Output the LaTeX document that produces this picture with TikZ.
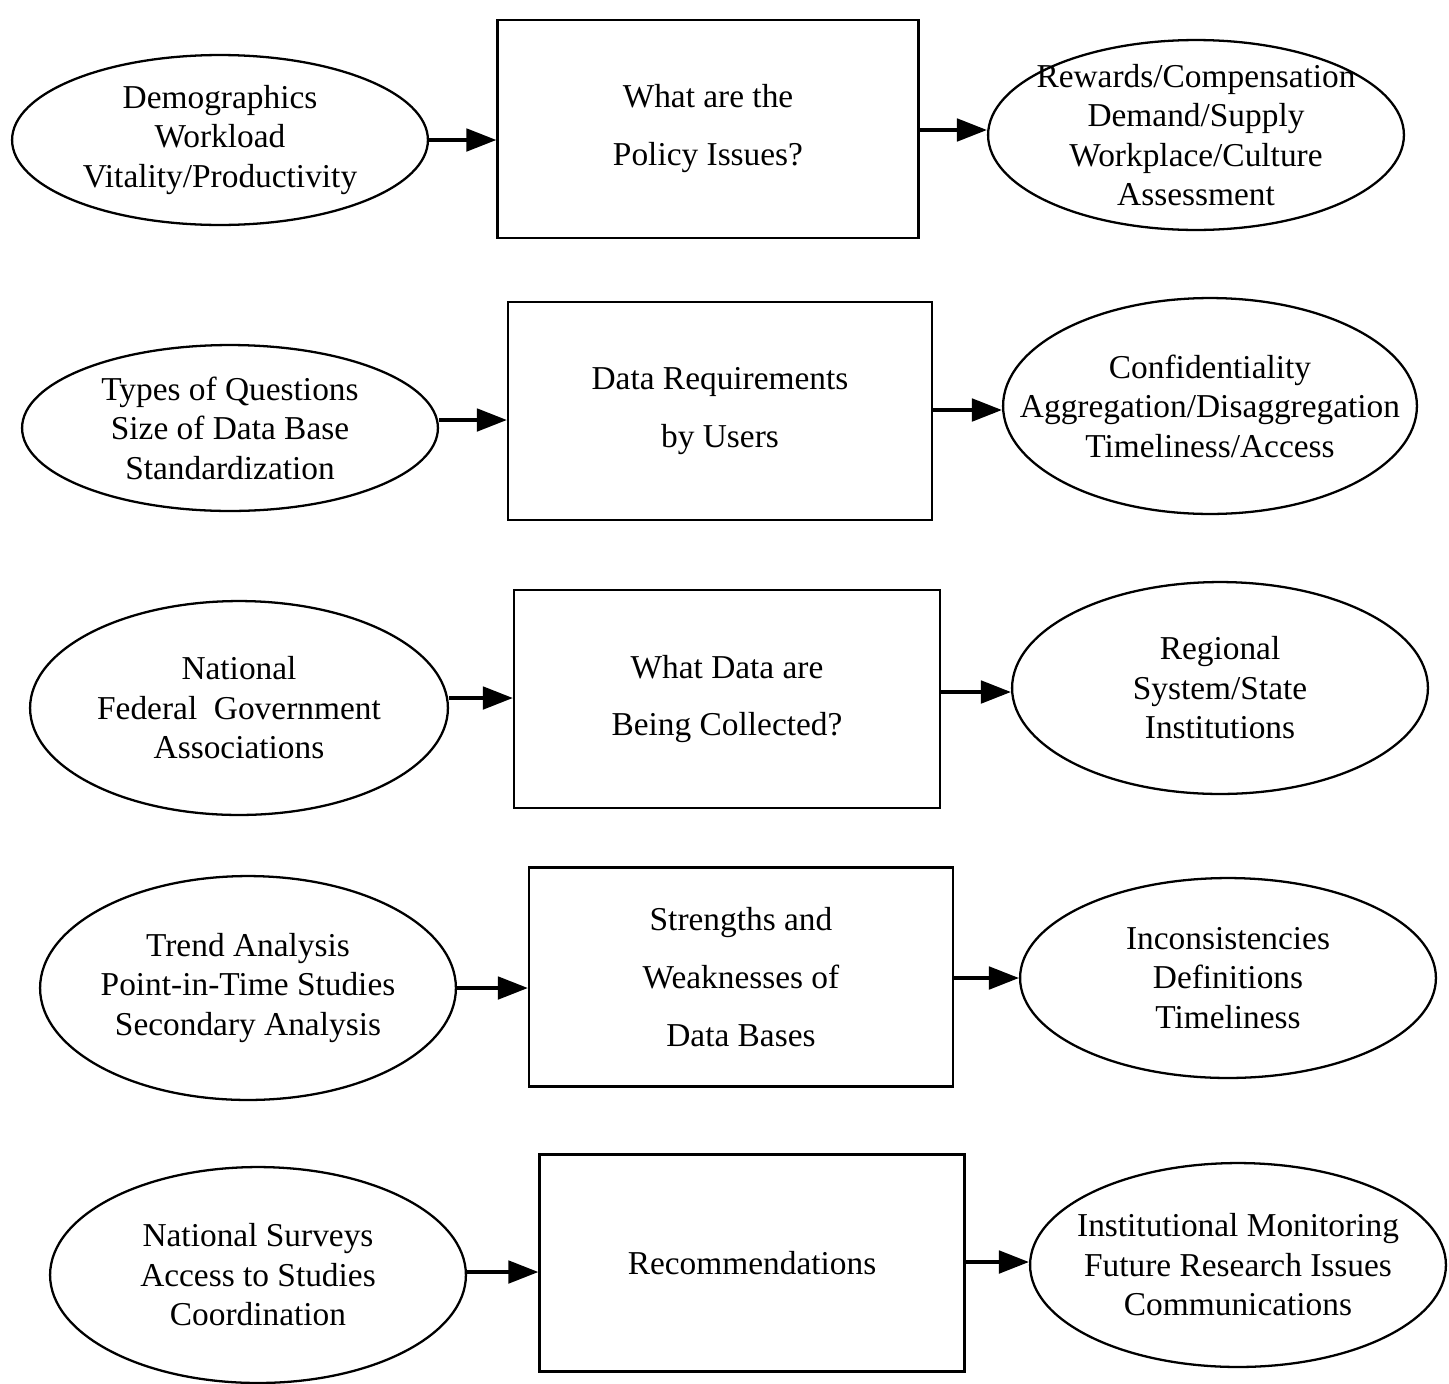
\documentclass[tikz,border=0pt]{standalone}
\usepackage{fontspec}
\setmainfont{Liberation Serif}
\usetikzlibrary{shapes.geometric,arrows.meta}
\begin{document}
\begin{tikzpicture}[x=0.02cm,y=-0.02cm,
  oval/.style={draw,line width=1.3pt,ellipse,inner sep=0pt},
  ovtext/.style={font=\fontsize{19}{22.5}\selectfont,align=center,inner sep=0pt},
  boxn/.style={draw,line width=1.3pt,rectangle,inner sep=0pt,font=\fontsize{19}{33}\selectfont,align=center},
  arr/.style={line width=2pt,-{Triangle[length=0.6cm,width=0.45cm]}}]
\useasboundingbox (0,0) rectangle (1449,1383);
\newcommand{\ov}[6]{\node[oval,minimum width=#4*0.04cm,minimum height=#5*0.04cm] (#1) at (#2,#3) {};
  \node[ovtext] (#1t) at (#1) {#6};}
\newcommand{\bx}[6]{\node[boxn,minimum width=#4*0.02cm,minimum height=#5*0.02cm] (#1) at (#2,#3) {#6};}
% row 1
\ov{l1}{220}{140}{208}{85}{Demographics\\Workload\\Vitality/Productivity}
\bx{b1}{708}{129}{421}{218}{What are the\\Policy Issues?}
\ov{r1}{1196}{135}{208}{95}{Rewards/Compensation\\Demand/Supply\\Workplace/Culture\\Assessment}
% row 2
\ov{l2}{230}{428}{208}{83}{Types of Questions\\Size of Data Base\\Standardization}
\bx{b2}{720}{411}{424}{218}{Data Requirements\\by Users}
\ov{r2}{1210}{406}{207}{108}{Confidentiality\\Aggregation/Disaggregation\\Timeliness/Access}
% row 3
\ov{l3}{239}{708}{209}{107}{National\\Federal~~Government\\Associations}
\bx{b3}{727}{699}{426}{218}{What Data are\\Being Collected?}
\ov{r3}{1220}{688}{208}{106}{Regional\\System/State\\Institutions}
% row 4
\ov{l4}{248}{988}{208}{112}{Trend Analysis\\Point-in-Time Studies\\Secondary Analysis}
\bx{b4}{741}{977}{424}{219}{Strengths and\\Weaknesses of\\Data Bases}
\ov{r4}{1228}{978}{208}{100}{Inconsistencies\\Definitions\\Timeliness}
% row 5
\ov{l5}{258}{1275}{208}{108}{National Surveys\\Access to Studies\\Coordination}
\bx{b5}{752}{1263}{425}{217}{Recommendations}
\ov{r5}{1238}{1265}{208}{102}{Institutional Monitoring\\Future Research Issues\\Communications}
% arrows
\draw[arr] (l1.east) -- (b1.west |- l1.east);
\draw[arr] (b1.east |- 0,130) -- (r1.west |- 0,130);
\draw[arr] (l2.east |- 0,420) -- (b2.west |- 0,420);
\draw[arr] (b2.east |- 0,410) -- (r2.west |- 0,410);
\draw[arr] (l3.east |- 0,698) -- (b3.west |- 0,698);
\draw[arr] (b3.east |- 0,692) -- (r3.west |- 0,692);
\draw[arr] (l4.east |- 0,988) -- (b4.west |- 0,988);
\draw[arr] (b4.east |- 0,978) -- (r4.west |- 0,978);
\draw[arr] (l5.east |- 0,1272) -- (b5.west |- 0,1272);
\draw[arr] (b5.east |- 0,1262) -- (r5.west |- 0,1262);
\end{tikzpicture}
\end{document}
